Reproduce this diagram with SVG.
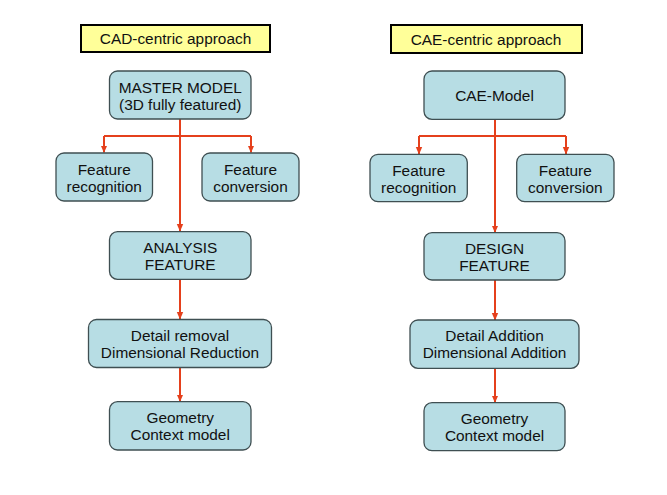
<svg xmlns="http://www.w3.org/2000/svg" width="667" height="495" viewBox="0 0 667 495">
<style>
.title{fill:#ffff99;stroke:#000;stroke-width:2}
.node{fill:#b7dde4;stroke:#3f4f52;stroke-width:1.3}
text{font-family:"Liberation Sans",Arial,sans-serif;font-size:15.4px;fill:#111;text-anchor:middle}
.c{fill:none;stroke:#e5401c;stroke-width:2}
</style>
<defs>
<marker id="a" markerUnits="userSpaceOnUse" markerWidth="8" markerHeight="8" refX="7" refY="4" viewBox="0 0 8 8" orient="auto">
<path d="M0,0.8 L7.5,4 L0,7.2 Z" fill="#e5401c"/>
</marker>
</defs>
<rect width="667" height="495" fill="#fff"/>
<g id="title-cad"><rect class="title" x="81" y="25" width="189" height="27"/><text x="175.5" y="44">CAD-centric approach</text></g>
<g id="title-cae"><rect class="title" x="391" y="25" width="191" height="28"/><text x="486" y="44.5">CAE-centric approach</text></g>
<g id="connectors">
<path class="c" d="M180,119 V231" marker-end="url(#a)"/>
<path class="c" d="M104,136 H251"/>
<path class="c" d="M104,136 V152.5" marker-end="url(#a)"/>
<path class="c" d="M251,136 V152.5" marker-end="url(#a)"/>
<path class="c" d="M180,279.5 V319" marker-end="url(#a)"/>
<path class="c" d="M180,368 V401.5" marker-end="url(#a)"/>
<path class="c" d="M495,119.5 V232.5" marker-end="url(#a)"/>
<path class="c" d="M419,136 H566"/>
<path class="c" d="M419,136 V154" marker-end="url(#a)"/>
<path class="c" d="M566,136 V154" marker-end="url(#a)"/>
<path class="c" d="M495,280 V320" marker-end="url(#a)"/>
<path class="c" d="M495,368.5 V402.5" marker-end="url(#a)"/>
</g>
<g id="master-model"><rect class="node" x="109.5" y="71" width="141.5" height="48" rx="8"/><text x="180.2" y="92.5">MASTER MODEL</text><text x="180.2" y="109.5">(3D fully featured)</text></g>
<g id="feature-recognition-l"><rect class="node" x="56" y="153" width="96.5" height="48" rx="8"/><text x="104.2" y="174.5">Feature</text><text x="104.2" y="191.5">recognition</text></g>
<g id="feature-conversion-l"><rect class="node" x="202" y="153" width="97" height="48" rx="8"/><text x="250.5" y="174.5">Feature</text><text x="250.5" y="191.5">conversion</text></g>
<g id="analysis-feature"><rect class="node" x="109.5" y="231.7" width="141.5" height="47.6" rx="8"/><text x="180.2" y="252.5">ANALYSIS</text><text x="180.2" y="269.5">FEATURE</text></g>
<g id="detail-removal"><rect class="node" x="88.5" y="319.5" width="183" height="48" rx="8"/><text x="180" y="340.5">Detail removal</text><text x="180" y="357.5">Dimensional Reduction</text></g>
<g id="geometry-l"><rect class="node" x="109.5" y="401.7" width="141.5" height="48.3" rx="8"/><text x="180.2" y="422.5">Geometry</text><text x="180.2" y="439.5">Context model</text></g>
<g id="cae-model"><rect class="node" x="424" y="71" width="141" height="48.3" rx="8"/><text x="494.5" y="101">CAE-Model</text></g>
<g id="feature-recognition-r"><rect class="node" x="370" y="154.3" width="97.3" height="47.4" rx="8"/><text x="418.7" y="175.5">Feature</text><text x="418.7" y="192.5">recognition</text></g>
<g id="feature-conversion-r"><rect class="node" x="516.7" y="154.3" width="97.3" height="47.4" rx="8"/><text x="565.3" y="175.5">Feature</text><text x="565.3" y="192.5">conversion</text></g>
<g id="design-feature"><rect class="node" x="424" y="232.7" width="141" height="47.3" rx="8"/><text x="494.5" y="253.5">DESIGN</text><text x="494.5" y="270.5">FEATURE</text></g>
<g id="detail-addition"><rect class="node" x="410" y="320" width="169" height="48.3" rx="8"/><text x="494.5" y="341">Detail Addition</text><text x="494.5" y="358">Dimensional Addition</text></g>
<g id="geometry-r"><rect class="node" x="424" y="402.7" width="141" height="48" rx="8"/><text x="494.5" y="423.5">Geometry</text><text x="494.5" y="440.5">Context model</text></g>
</svg>
